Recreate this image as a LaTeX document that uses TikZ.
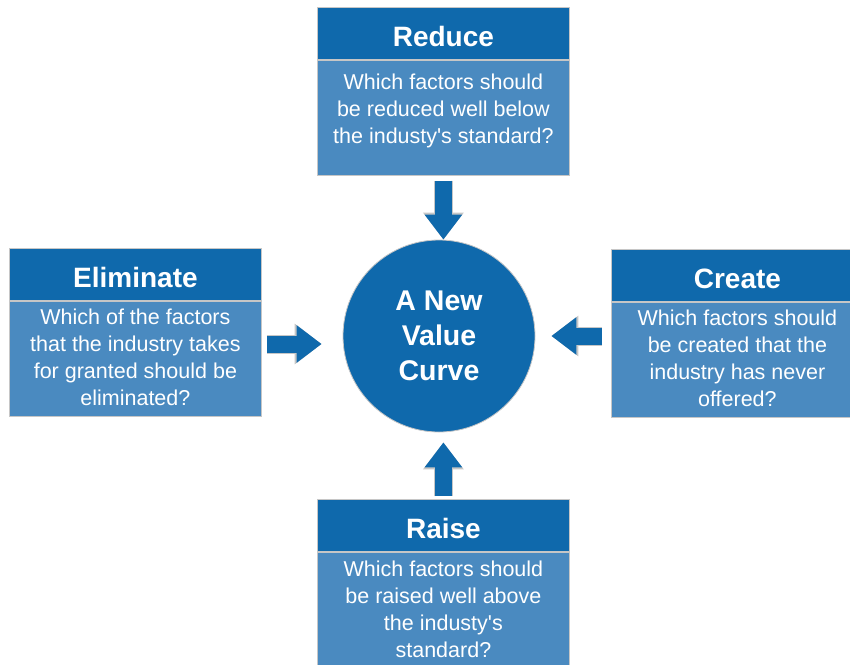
\documentclass[tikz,border=0pt]{standalone}
\usepackage{fontspec}
\setmainfont{Liberation Sans}
\usetikzlibrary{positioning,arrows.meta}

\definecolor{kopfblau}{RGB}{15,105,172}
\definecolor{feldblau}{RGB}{74,138,192}

\tikzset{
  kopf/.style={rectangle, fill=kopfblau, draw=gray!45, line width=0.8pt,
    minimum width=252pt, minimum height=52pt, inner sep=0pt, text=white,
    text height=26pt, text depth=0pt,
    font=\fontsize{28}{32}\selectfont\bfseries},
  feld/.style={rectangle, fill=feldblau, draw=gray!45, line width=0.8pt,
    minimum width=252pt, minimum height=115pt, inner sep=0pt},
  feldtext/.style={text=white, align=center, inner sep=0pt,
    font=\fontsize{21.5}{27}\selectfont},
  kreis/.style={circle, fill=kopfblau, draw=gray!45, line width=0.8pt,
    minimum size=192pt, inner sep=0pt, text=white, align=center,
    font=\fontsize{28.5}{35}\selectfont\bfseries},
  pfeil/.style={line width=17pt, draw=kopfblau, -{Triangle[length=25pt,width=36pt]},
    preaction={draw=gray!45, line width=19pt, -{Triangle[length=27pt,width=39pt]}}},
}

\begin{document}
\begin{tikzpicture}[x=1pt, y=-1pt]
		%Rahmen
		\useasboundingbox (0,0) rectangle (850,664);
		\clip (0,0) rectangle (850,664);
		
		%Kreis in der Mitte
		\node[kreis] (curve) at (439,336) {A New\\Value\\Curve};
		
		%Kasten oben
		\node[kopf, anchor=north west] (reduce) at (317,7) {Reduce};
		\node[feld, below=0pt of reduce] (reduceb) {};
		\node[feldtext, below=14pt of reduceb.north] (reducet) {Which factors should\\be reduced well below\\the industy\textquotesingle s standard?};
		
		%Kasten links
		\node[kopf, anchor=north west] (elim) at (9,248) {Eliminate};
		\node[feld, below=0pt of elim] (elimb) {};
		\node[feldtext, below=8pt of elimb.north] (elimt) {Which of the factors\\that the industry takes\\for granted should be\\eliminated?};
		
		%Kasten rechts
		\node[kopf, anchor=north west] (create) at (611,249) {Create};
		\node[feld, below=0pt of create] (createb) {};
		\node[feldtext, below=8pt of createb.north] (createt) {Which factors should\\be created that the\\industry has never\\offered?};
		
		%Kasten unten
		\node[kopf, anchor=north west] (raise) at (317,499) {Raise};
		\node[feld, below=0pt of raise] (raiseb) {};
		\node[feldtext, below=9pt of raiseb.north] (raiset) {Which factors should\\be raised well above\\the industy\textquotesingle s\\standard?};
		
		%Pfeile
		\draw[pfeil, shorten <=5pt] (reduceb.south) -- (reduceb.south |- curve.north);
		\draw[pfeil, shorten <=5pt, shorten >=21pt] ([yshift=-8pt]elimb.east |- curve.west) -- ([yshift=-8pt]curve.west);
		\draw[pfeil, shorten <=9pt, shorten >=16pt] (createb.west |- curve.east) -- (curve.east);
		\draw[pfeil, shorten <=3pt, shorten >=10pt] (raise.north) -- (raise.north |- curve.south);
		
\end{tikzpicture}
\end{document}
